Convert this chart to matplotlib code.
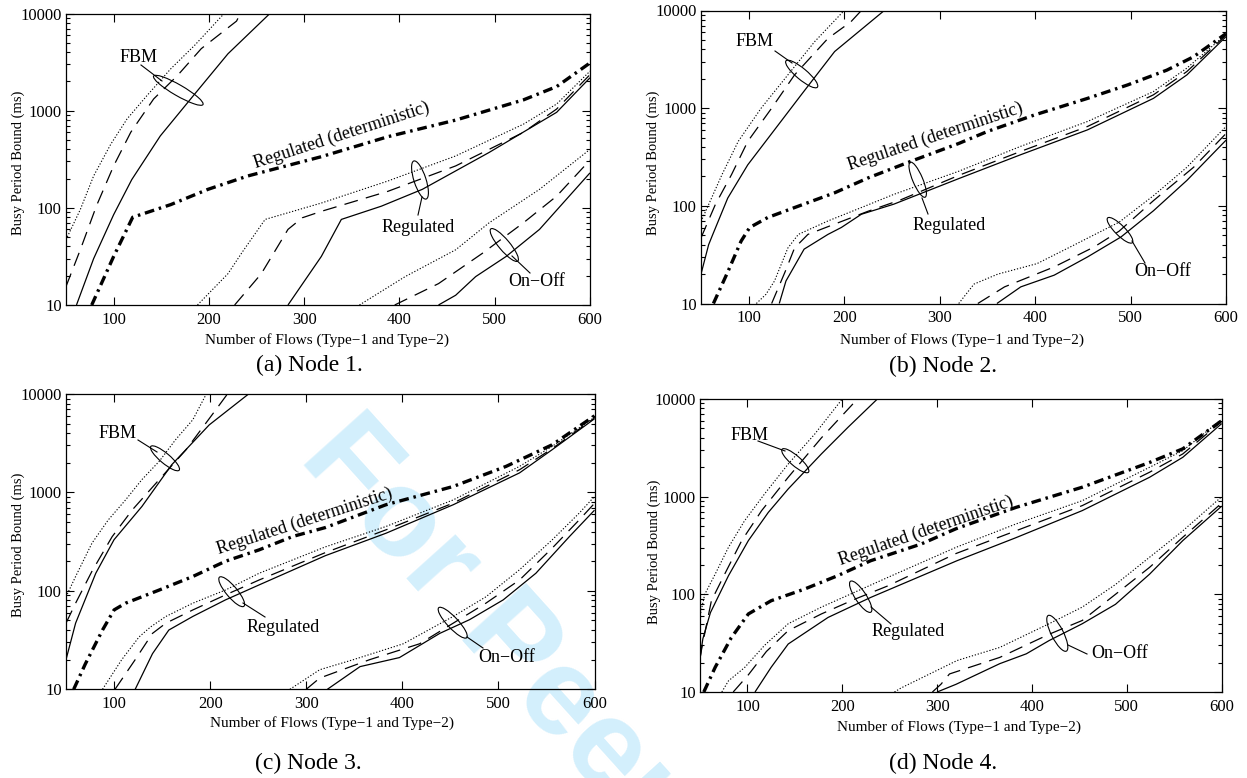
import matplotlib
matplotlib.use("Agg")
import matplotlib.pyplot as plt
from matplotlib.patches import Ellipse
from matplotlib.lines import Line2D
from matplotlib.transforms import Affine2D
from matplotlib.ticker import FixedLocator, LogLocator, NullFormatter

plt.rcParams['font.family'] = ['Liberation Serif', 'DejaVu Serif']
plt.rcParams['lines.scale_dashes'] = False

# ---------------- data ----------------
X_TICKS = [100, 200, 300, 400, 500, 600]
Y_TICKS = [10, 100, 1000, 10000]
Y_TICK_LABELS = ["10", "100", "1000", "10000"]
X_LABEL = "Number of Flows (Type\u22121 and Type\u22122)"
Y_LABEL = "Busy Period Bound (ms)"
CAPTIONS = ["(a) Node 1.", "(b) Node 2.", "(c) Node 3.", "(d) Node 4."]

# Node 1
A_FBM_DOT_X = [50, 65, 79, 97, 114, 135, 160, 185, 216]
A_FBM_DOT_Y = [47, 96, 213, 452, 820, 1430, 2700, 4700, 10000]
A_FBM_DASH_X = [50, 65, 82, 100, 118, 142, 167, 192, 229, 233]
A_FBM_DASH_Y = [15.5, 37, 105, 270, 600, 1320, 2300, 4350, 8350, 10000]
A_FBM_SOL_X = [61, 79, 100, 119, 149, 185, 220, 264]
A_FBM_SOL_Y = [10, 30, 85, 195, 550, 1480, 3850, 10000]
A_DET_X = [77, 100, 120, 160, 199, 241, 318, 388, 459, 530, 565, 600]
A_DET_Y = [10, 31.6, 80, 108, 155, 213, 336, 540, 800, 1290, 1770, 3100]
A_REG_DOT_X = [188, 220, 235, 259, 318, 388, 459, 530, 565, 600]
A_REG_DOT_Y = [10, 21, 35, 76, 112, 189, 342, 725, 1170, 2550]
A_REG_DASH_X = [227, 255, 283, 298, 318, 388, 459, 530, 565, 600]
A_REG_DASH_Y = [10, 21, 60, 79, 92, 148, 270, 597, 1040, 2350]
A_REG_SOL_X = [283, 318, 339, 381, 424, 494, 565, 600]
A_REG_SOL_Y = [10, 31.6, 76, 104, 155, 371, 962, 2180]
A_ON_DOT_X = [358, 406, 459, 494, 547, 600]
A_ON_DOT_Y = [10, 19.6, 37, 70, 155, 400]
A_ON_DASH_X = [395, 441, 487, 530, 565, 600]
A_ON_DASH_Y = [10, 16.6, 34, 70, 132, 310]
A_ON_SOL_X = [441, 459, 480, 512, 547, 600]
A_ON_SOL_Y = [10, 12.6, 19.6, 31.6, 60, 229]

# Node 2
B_FBM_DOT_X = [50, 58, 72, 89, 113, 141, 169, 200]
B_FBM_DOT_Y = [69, 103, 209, 457, 1000, 2190, 4790, 10000]
B_FBM_DASH_X = [50, 65, 82, 99, 124, 148, 183, 207, 218]
B_FBM_DASH_Y = [47, 103, 209, 457, 1000, 2190, 5180, 7660, 10000]
B_FBM_SOL_X = [50, 58, 62, 78, 99, 127, 155, 190, 242]
B_FBM_SOL_Y = [20, 40, 50, 120, 263, 600, 1370, 3800, 10000]
B_DET_X = [63, 78, 92, 101, 120, 148, 190, 225, 270, 320, 350, 399, 455, 497, 538, 566, 600]
B_DET_Y = [10, 21, 43.5, 60, 76, 96, 136, 193, 286, 435, 577, 850, 1260, 1730, 2450, 3360, 5800]
B_REG_DOT_X = [108, 118, 127, 141, 152, 183, 218, 252, 320, 385, 455, 524, 559, 600]
B_REG_DOT_Y = [10, 12.4, 17, 37, 51, 70, 96, 131, 226, 407, 731, 1480, 2570, 5700]
B_REG_DASH_X = [124, 138, 148, 162, 190, 225, 259, 320, 385, 455, 524, 559, 600]
B_REG_DASH_Y = [10, 21, 37, 51, 65, 88, 115, 205, 361, 650, 1370, 2370, 5600]
B_REG_SOL_X = [132, 139, 158, 183, 197, 218, 252, 320, 385, 455, 524, 559, 600]
B_REG_SOL_Y = [10, 17, 36, 51, 60, 82, 104, 190, 334, 600, 1260, 2190, 5400]
B_ON_DOT_X = [320, 336, 361, 402, 437, 488, 524, 559, 600]
B_ON_DOT_Y = [10, 15.8, 20, 25.6, 38, 68, 127, 248, 650]
B_ON_DASH_X = [340, 368, 420, 462, 488, 524, 566, 600]
B_ON_DASH_Y = [10, 14.8, 23.7, 38, 55, 113, 248, 550]
B_ON_SOL_X = [360, 385, 420, 455, 490, 524, 559, 600]
B_ON_SOL_Y = [10, 14.8, 19.5, 30, 48, 89, 182, 470]

# Node 3
C_FBM_DOT_X = [50, 60, 77, 94, 112, 129, 147, 164, 182, 196]
C_FBM_DOT_Y = [87, 140, 305, 526, 840, 1350, 2070, 3430, 5480, 10000]
C_FBM_DASH_X = [50, 60, 77, 98, 119, 147, 175, 206, 218]
C_FBM_DASH_Y = [47, 75, 158, 355, 665, 1350, 2720, 6930, 10000]
C_FBM_SOL_X = [50, 60, 81, 100, 129, 160, 199, 240]
C_FBM_SOL_Y = [20, 47, 151, 331, 720, 1910, 4850, 10000]
C_DET_X = [58, 70, 88, 100, 112, 147, 182, 216, 251, 286, 320, 383, 453, 508, 556, 600]
C_DET_Y = [10, 18, 40, 64, 75, 102, 140, 200, 261, 357, 440, 750, 1150, 1840, 3050, 6000]
C_REG_DOT_X = [88, 108, 126, 138, 154, 182, 216, 251, 320, 383, 453, 522, 556, 600]
C_REG_DOT_Y = [10, 20, 34, 43, 55, 75, 102, 151, 280, 451, 840, 1840, 2940, 5800]
C_REG_DASH_X = [101, 122, 140, 154, 182, 216, 251, 320, 383, 453, 522, 556, 600]
C_REG_DASH_Y = [10, 20, 37, 47, 64, 91, 129, 245, 417, 780, 1700, 2790, 5700]
C_REG_SOL_X = [122, 140, 157, 182, 216, 251, 320, 383, 453, 522, 556, 600]
C_REG_SOL_Y = [10, 23, 40, 55, 81, 115, 228, 385, 750, 1580, 2720, 5600]
C_ON_DOT_X = [283, 314, 349, 401, 453, 487, 522, 556, 584, 600]
C_ON_DOT_Y = [10, 15.8, 20, 29, 55, 87, 164, 330, 615, 910]
C_ON_DASH_X = [300, 314, 366, 418, 453, 487, 522, 556, 584, 600]
C_ON_DASH_Y = [10, 13, 20, 29, 47, 75, 129, 272, 525, 775]
C_ON_SOL_X = [322, 356, 397, 439, 470, 505, 539, 574, 600]
C_ON_SOL_Y = [10, 17, 21, 37, 51, 81, 151, 357, 660]

# Node 4
D_FBM_DOT_X = [50, 55, 66, 80, 97, 118, 143, 171, 200]
D_FBM_DOT_Y = [60, 100, 161, 303, 567, 1065, 2160, 4380, 10000]
D_FBM_DASH_X = [50, 52, 62, 76, 94, 115, 143, 178, 216]
D_FBM_DASH_Y = [22, 28.6, 86, 161, 355, 720, 1580, 4000, 10000]
D_FBM_SOL_X = [50, 53, 61, 80, 101, 122, 143, 178, 206, 237]
D_FBM_SOL_Y = [22, 35, 65, 155, 355, 690, 1200, 2740, 5130, 10000]
D_DET_X = [54, 66, 83, 101, 125, 160, 195, 230, 283, 320, 383, 453, 524, 559, 600]
D_DET_Y = [10, 17.9, 36, 63, 86, 113, 155, 221, 327, 470, 776, 1250, 2240, 3090, 6000]
D_REG_DOT_X = [73, 80, 97, 118, 143, 178, 213, 248, 320, 383, 453, 524, 559, 600]
D_REG_DOT_Y = [10, 13, 17.8, 30, 50, 74, 105, 149, 303, 525, 910, 2000, 2960, 6200]
D_REG_DASH_X = [85, 101, 120, 143, 178, 213, 248, 320, 383, 453, 524, 559, 600]
D_REG_DASH_Y = [10, 15, 26, 42.5, 63, 89, 122, 262, 447, 810, 1780, 2740, 5900]
D_REG_SOL_X = [108, 125, 143, 185, 230, 321, 383, 453, 524, 559, 600]
D_REG_SOL_Y = [10, 17.9, 31, 58, 93, 221, 380, 720, 1580, 2530, 5600]
D_ON_DOT_X = [255, 262, 321, 366, 418, 453, 488, 524, 559, 600]
D_ON_DOT_Y = [10, 11, 21, 28.6, 50, 74, 126, 240, 447, 1000]
D_ON_DASH_X = [295, 304, 313, 366, 418, 453, 488, 524, 559, 600]
D_ON_DASH_Y = [10, 12, 15.3, 22.6, 39, 54, 100, 189, 384, 860]
D_ON_SOL_X = [300, 320, 366, 394, 418, 453, 488, 524, 559, 600]
D_ON_SOL_Y = [10, 12, 19.5, 24.6, 33.6, 50, 79, 161, 355, 800]

# ---------------- styles & layout ----------------
STYLE = {
    'dot': dict(color='black', lw=0.8, linestyle=(0, (0.9, 1.3))),
    'dash': dict(color='black', lw=0.9, linestyle=(0, (10, 6))),
    'sol': dict(color='black', lw=0.9, linestyle='-'),
    'det': dict(color='black', lw=2.4, linestyle=(0, (7, 3.5, 1.8, 3.5))),
}

W, H = 1247, 778
fig = plt.figure(figsize=(W / 100, H / 100), dpi=100)
PIX = Affine2D().scale(1 / 100) + fig.dpi_scale_trans


def P(px, py):
    return (px, H - py)


# Watermark
fig.text(*P(298, 458), "For Peer Review", transform=PIX, fontsize=90,
         family='Liberation Sans', weight='bold', color='#d3effc',
         rotation=-48, rotation_mode='anchor', ha='left', va='baseline',
         zorder=-5)

# axes rectangles in pixels: left, right, top, bottom
RECTS = [(66, 590, 13.5, 305), (701, 1226, 10.5, 303.5),
         (66, 594.5, 394, 689.3), (700, 1221.7, 399, 692)]

SERIES = [
    [('dot', A_FBM_DOT_X, A_FBM_DOT_Y), ('dash', A_FBM_DASH_X, A_FBM_DASH_Y), ('sol', A_FBM_SOL_X, A_FBM_SOL_Y),
     ('det', A_DET_X, A_DET_Y),
     ('dot', A_REG_DOT_X, A_REG_DOT_Y), ('dash', A_REG_DASH_X, A_REG_DASH_Y), ('sol', A_REG_SOL_X, A_REG_SOL_Y),
     ('dot', A_ON_DOT_X, A_ON_DOT_Y), ('dash', A_ON_DASH_X, A_ON_DASH_Y), ('sol', A_ON_SOL_X, A_ON_SOL_Y)],
    [('dot', B_FBM_DOT_X, B_FBM_DOT_Y), ('dash', B_FBM_DASH_X, B_FBM_DASH_Y), ('sol', B_FBM_SOL_X, B_FBM_SOL_Y),
     ('det', B_DET_X, B_DET_Y),
     ('dot', B_REG_DOT_X, B_REG_DOT_Y), ('dash', B_REG_DASH_X, B_REG_DASH_Y), ('sol', B_REG_SOL_X, B_REG_SOL_Y),
     ('dot', B_ON_DOT_X, B_ON_DOT_Y), ('dash', B_ON_DASH_X, B_ON_DASH_Y), ('sol', B_ON_SOL_X, B_ON_SOL_Y)],
    [('dot', C_FBM_DOT_X, C_FBM_DOT_Y), ('dash', C_FBM_DASH_X, C_FBM_DASH_Y), ('sol', C_FBM_SOL_X, C_FBM_SOL_Y),
     ('det', C_DET_X, C_DET_Y),
     ('dot', C_REG_DOT_X, C_REG_DOT_Y), ('dash', C_REG_DASH_X, C_REG_DASH_Y), ('sol', C_REG_SOL_X, C_REG_SOL_Y),
     ('dot', C_ON_DOT_X, C_ON_DOT_Y), ('dash', C_ON_DASH_X, C_ON_DASH_Y), ('sol', C_ON_SOL_X, C_ON_SOL_Y)],
    [('dot', D_FBM_DOT_X, D_FBM_DOT_Y), ('dash', D_FBM_DASH_X, D_FBM_DASH_Y), ('sol', D_FBM_SOL_X, D_FBM_SOL_Y),
     ('det', D_DET_X, D_DET_Y),
     ('dot', D_REG_DOT_X, D_REG_DOT_Y), ('dash', D_REG_DASH_X, D_REG_DASH_Y), ('sol', D_REG_SOL_X, D_REG_SOL_Y),
     ('dot', D_ON_DOT_X, D_ON_DOT_Y), ('dash', D_ON_DASH_X, D_ON_DASH_Y), ('sol', D_ON_SOL_X, D_ON_SOL_Y)],
]

# annotation layout (pixel positions): label, label pos, ellipse center, w, h, angle, leader start, leader end
ANNOT = [
    [("FBM", (139, 57), (178.3, 90.3), 57, 11, -30, (141, 65), (162, 81)),
     ("Regulated", (418, 227), (420, 180), 40, 12, 108, (422, 197), (418, 215)),
     ("On\u2212Off", (537, 282), (504.3, 245), 42, 11, 130, (512, 256), (530, 273))],
    [("FBM", (755, 42), (801.7, 74), 41, 11, -40, (775, 51), (792, 63)),
     ("Regulated", (949, 226), (917.7, 179.7), 38, 10, 113, (922, 198), (928, 214)),
     ("On\u2212Off", (1163, 272), (1120, 230.3), 35, 10, -45, (1132, 241), (1145, 263))],
    [("FBM", (118, 434), (165, 458.3), 37, 10, -40, (138, 440), (157, 452)),
     ("Regulated", (283, 628), (231.7, 591.7), 38, 11, 130, (243, 603), (265, 617)),
     ("On\u2212Off", (507, 658), (452.7, 622.7), 41, 11, -47, (467, 637), (483, 648))],
    [("FBM", (750, 435), (795.3, 460.7), 35, 10, -41, (758, 441), (785, 451)),
     ("Regulated", (908, 631), (860.7, 596.7), 37, 11, 123.5, (871, 607), (891, 624)),
     ("On\u2212Off", (1120, 654), (1057.3, 633.3), 40, 12, -63, (1068, 645), (1087, 654))],
]
DET_TEXT = [((342, 135), 18), ((935, 137), 18.5), ((305, 521), 18), ((926, 531), 19)]
YLABEL_POS = [(18, 163), (653, 163), (18, 545), (654, 552)]
XLABEL_POS = [(327, 340), (962, 340), (332, 723), (959, 727)]
CAPTION_POS = [(309, 365), (943, 366), (308, 763), (943, 763)]

for i in range(4):
    l, r, t, b = RECTS[i]
    ax = fig.add_axes([l / W, 1 - b / H, (r - l) / W, (b - t) / H])
    ax.patch.set_alpha(0)
    for kind, xs, ys in SERIES[i]:
        ax.plot(xs, ys, **STYLE[kind], solid_capstyle='butt', dash_capstyle='butt')
    ax.set_yscale('log')
    ax.set_xlim(50, 600)
    ax.set_ylim(10, 10000)
    ax.xaxis.set_major_locator(FixedLocator(X_TICKS))
    ax.set_xticklabels([str(v) for v in X_TICKS])
    ax.yaxis.set_major_locator(FixedLocator(Y_TICKS))
    ax.set_yticklabels(Y_TICK_LABELS)
    ax.yaxis.set_minor_locator(LogLocator(base=10, subs=range(2, 10)))
    ax.yaxis.set_minor_formatter(NullFormatter())
    ax.tick_params(which='both', direction='in', top=True, right=True, width=0.8)
    ax.tick_params(which='major', length=5.5, labelsize=12)
    ax.tick_params(axis='x', which='major', pad=5)
    ax.tick_params(axis='y', which='major', pad=3)
    ax.tick_params(which='minor', length=3)
    for sp in ax.spines.values():
        sp.set_linewidth(0.9)

    # annotations
    for lab, lpos, ec, ew, eh, ang, ls, le in ANNOT[i]:
        fig.text(*P(*lpos), lab, transform=PIX, fontsize=13, ha='center', va='center')
        fig.add_artist(Ellipse(P(*ec), ew, eh, angle=ang, transform=PIX,
                               fill=False, lw=0.8, color='black'))
        fig.add_artist(Line2D([ls[0], le[0]], [H - ls[1], H - le[1]], transform=PIX,
                              lw=0.8, color='black'))
    (dx, dy), dang = DET_TEXT[i]
    fig.text(*P(dx, dy), "Regulated (deterministic)", transform=PIX, fontsize=13,
             ha='center', va='center', rotation=dang, rotation_mode='anchor')
    fig.text(*P(*YLABEL_POS[i]), Y_LABEL, transform=PIX, fontsize=10.5,
             rotation=90, ha='center', va='center')
    fig.text(*P(*XLABEL_POS[i]), X_LABEL, transform=PIX, fontsize=11,
             ha='center', va='center')
    fig.text(*P(*CAPTION_POS[i]), CAPTIONS[i], transform=PIX, fontsize=17,
             ha='center', va='center')

fig.savefig("out.png", dpi=100)
